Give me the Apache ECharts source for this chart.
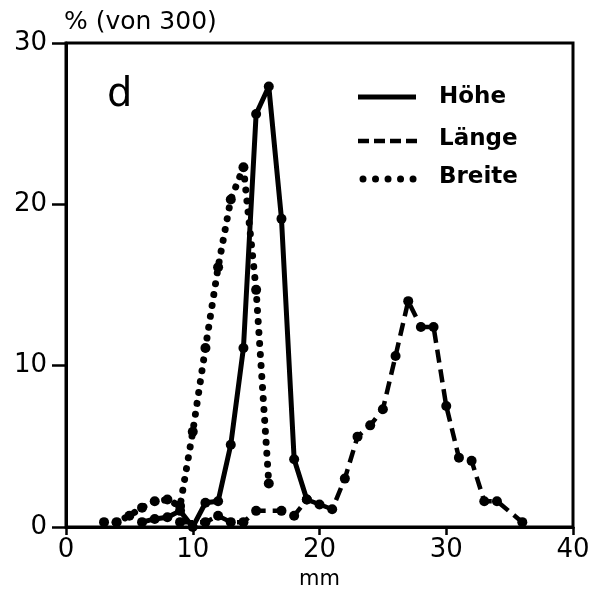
<!DOCTYPE html>
<html>
<head>
<meta charset="utf-8">
<script src="https://cdn.jsdelivr.net/npm/echarts@6/dist/echarts.min.js"></script>
<style>
html,body{margin:0;padding:0;background:#fff;}
#c{width:606px;height:595px;}
</style>
</head>
<body>
<div id="c"></div>
<script>
// Data (x in mm, y in % of 300)
const hoeheX = [6, 7, 8, 9, 10, 11, 12, 13, 14, 15, 16, 17, 18, 19];
const hoeheY = [0.3, 0.5, 0.6, 1.0, 0, 1.5, 1.6, 5.1, 11.1, 25.6, 27.3, 19.1, 4.2, 1.7];

const laengeX = [9, 11, 12, 13, 14, 15, 17, 18, 19, 20, 21, 22, 23, 24, 25, 26, 27, 28, 29, 30, 31, 32, 33, 34, 36];
const laengeY = [0.3, 0.3, 0.7, 0.3, 0.3, 1.0, 1.0, 0.7, 1.7, 1.4, 1.1, 3.0, 5.6, 6.3, 7.3, 10.6, 14.0, 12.4, 12.4, 7.5, 4.3, 4.1, 1.6, 1.6, 0.3];

const breiteX = [3, 4, 5, 6, 7, 8, 9, 10, 11, 12, 13, 14, 15, 16];
const breiteY = [0.3, 0.3, 0.7, 1.2, 1.6, 1.7, 1.3, 5.9, 11.1, 16.1, 20.3, 22.3, 14.7, 2.7];

const seriesNames = ['Höhe', 'Länge', 'Breite'];
const xTicks = [0, 10, 20, 30, 40];
const yTicks = [0, 10, 20, 30];

const pairs = (xs, ys) => xs.map((x, i) => [x, ys[i]]);

const FONT = '"DejaVu Sans", "Liberation Sans", Arial, sans-serif';
const chart = echarts.init(document.getElementById('c'), null, {renderer: 'canvas'});

const baseSeries = {
  type: 'line',
  symbol: 'circle',
  symbolSize: 10,
  itemStyle: {color: '#000'},
  animation: false,
  z: 3
};

chart.setOption({
  backgroundColor: '#fff',
  animation: false,
  grid: {left: 66, right: 33, top: 43, bottom: 63, show: true, borderColor: '#000', borderWidth: 3},
  xAxis: {
    type: 'value', min: xTicks[0], max: xTicks[xTicks.length - 1], interval: 10,
    name: 'mm', nameLocation: 'middle', nameGap: 42,
    nameTextStyle: {color: '#000', fontSize: 21, fontFamily: FONT},
    axisLine: {show: true, lineStyle: {color: '#000', width: 3}},
    axisTick: {show: true, length: 8, inside: false, lineStyle: {color: '#000', width: 2.5}},
    axisLabel: {color: '#000', fontSize: 26, fontFamily: FONT, margin: 10},
    splitLine: {show: false}
  },
  yAxis: {
    type: 'value', min: yTicks[0], max: yTicks[yTicks.length - 1], interval: 10,
    name: '% (von 300)', nameLocation: 'end', nameGap: 8,
    nameTextStyle: {color: '#000', fontSize: 25, fontFamily: FONT, align: 'left', verticalAlign: 'bottom', padding: [0, 0, 0, -2]},
    axisLine: {show: true, lineStyle: {color: '#000', width: 3}},
    axisTick: {show: true, length: 14, lineStyle: {color: '#000', width: 2.5}},
    axisLabel: {color: '#000', fontSize: 26, fontFamily: FONT, margin: 19},
    splitLine: {show: false}
  },
  series: [
    Object.assign({}, baseSeries, {
      name: seriesNames[0], data: pairs(hoeheX, hoeheY),
      lineStyle: {color: '#000', width: 5, type: 'solid', join: 'round'}
    }),
    Object.assign({}, baseSeries, {
      name: seriesNames[1], data: pairs(laengeX, laengeY),
      lineStyle: {color: '#000', width: 4.5, type: [13, 7]}
    }),
    Object.assign({}, baseSeries, {
      name: seriesNames[2], data: pairs(breiteX, breiteY),
      lineStyle: {color: '#000', width: 7, type: [0.01, 11], cap: 'round'}
    })
  ],
  graphic: [
    {type: 'text', left: 107, top: 76, style: {text: 'd', font: '40px ' + FONT, fill: '#000'}},
    {type: 'line', shape: {x1: 358, y1: 97, x2: 416, y2: 97}, style: {stroke: '#000', lineWidth: 5}},
    {type: 'text', left: 439, top: 86, style: {text: seriesNames[0], font: 'bold 23px ' + FONT, fill: '#000'}},
    {type: 'line', shape: {x1: 358, y1: 141, x2: 418, y2: 141}, style: {stroke: '#000', lineWidth: 4.5, lineDash: [11, 5]}},
    {type: 'text', left: 439, top: 128, style: {text: seriesNames[1], font: 'bold 23px ' + FONT, fill: '#000'}},
    {type: 'line', shape: {x1: 363, y1: 179, x2: 415, y2: 179}, style: {stroke: '#000', lineWidth: 7, lineDash: [0.01, 12.5], lineCap: 'round'}},
    {type: 'text', left: 439, top: 166, style: {text: seriesNames[2], font: 'bold 23px ' + FONT, fill: '#000'}}
  ]
});
</script>
</body>
</html>
